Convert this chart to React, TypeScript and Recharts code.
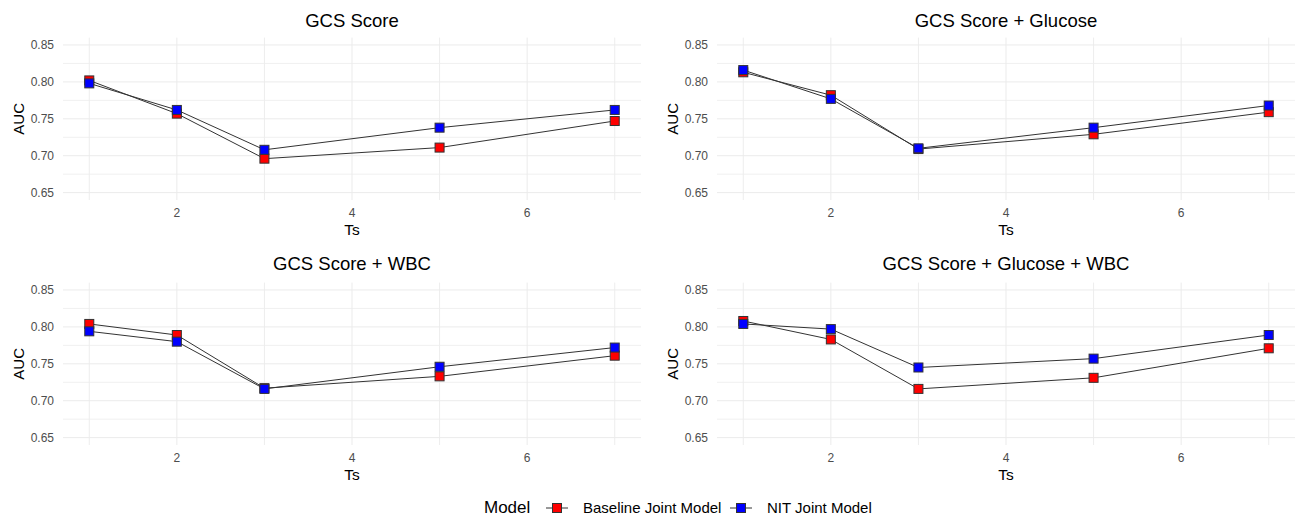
import { Label, Line, LineChart, ReferenceLine, XAxis, YAxis } from 'recharts';

const FONT = '"Liberation Sans", Arial, sans-serif';

// time points and AUC values per panel
const ts = [1, 2, 3, 5, 7];

const baselineGcs = [0.802, 0.757, 0.696, 0.711, 0.747];
const nitGcs = [0.798, 0.762, 0.708, 0.738, 0.762];

const baselineGlucose = [0.813, 0.782, 0.709, 0.729, 0.759];
const nitGlucose = [0.816, 0.777, 0.710, 0.738, 0.768];

const baselineWbc = [0.804, 0.789, 0.717, 0.733, 0.761];
const nitWbc = [0.794, 0.780, 0.716, 0.746, 0.772];

const baselineAll = [0.808, 0.783, 0.716, 0.731, 0.771];
const nitAll = [0.804, 0.797, 0.745, 0.757, 0.789];

const yTicks = [0.65, 0.7, 0.75, 0.8, 0.85];
const yMinor = [0.675, 0.725, 0.775, 0.825];
const xTicks = [2, 4, 6];
const xMinor = [1, 3, 5, 7];

const seriesNames = ['Baseline Joint Model', 'NIT Joint Model'];
const seriesColors = ['#FF0000', '#0000FF'];

const panels = [
  { title: 'GCS Score', base: baselineGcs, nit: nitGcs, left: 0, top: 0, ml: 8, mr: 8 },
  { title: 'GCS Score + Glucose', base: baselineGlucose, nit: nitGlucose, left: 649, top: 0, ml: 13, mr: 3 },
  { title: 'GCS Score + WBC', base: baselineWbc, nit: nitWbc, left: 0, top: 245, ml: 8, mr: 8 },
  { title: 'GCS Score + Glucose + WBC', base: baselineAll, nit: nitAll, left: 649, top: 245, ml: 13, mr: 3 },
];

function square(color: string) {
  return (props: any) => (
    <rect
      key={props.key ?? `${color}-${props.index}`}
      x={props.cx - 4.5}
      y={props.cy - 4.5}
      width={9}
      height={9}
      fill={color}
      stroke="#333"
      strokeWidth={1}
    />
  );
}

const YTick = ({ x, y, payload }: any) => (
  <text x={x} y={y} dy="0.35em" textAnchor="end" fontSize={12} fill="#4D4D4D" fontFamily={FONT}>
    {payload.value.toFixed(2)}
  </text>
);

const XTick = ({ x, y, payload }: any) => (
  <text x={x} y={y} dy={9} textAnchor="middle" fontSize={12} fill="#4D4D4D" fontFamily={FONT}>
    {payload.value}
  </text>
);

function Panel({ title, base, nit, left, top, ml, mr }: any) {
  const data = ts.map((t, i) => ({ ts: t, baseline: base[i], nit: nit[i] }));
  const plotLeft = ml + 55;
  const plotRight = 649 - mr;
  return (
    <div style={{ position: 'absolute', left, top, width: 649, height: 245 }}>
      <div
        style={{
          position: 'absolute',
          left: plotLeft,
          width: plotRight - plotLeft,
          top: top === 0 ? 10 : 8,
          textAlign: 'center',
          fontFamily: FONT,
          fontSize: 18.5,
          lineHeight: '22px',
          color: '#000',
        }}>
        {title}
      </div>
      <LineChart width={649} height={245} data={data} margin={{ top: 37.6, right: mr, left: ml, bottom: 0 }}>
        {yMinor.map((v) => (
          <ReferenceLine key={`ym${v}`} y={v} stroke="#F0F0F0" strokeWidth={1} />
        ))}
        {xMinor.map((v) => (
          <ReferenceLine key={`xm${v}`} x={v} stroke="#EDEDED" strokeWidth={1} />
        ))}
        {yTicks.map((v) => (
          <ReferenceLine key={`y${v}`} y={v} stroke="#EBEBEB" strokeWidth={1} />
        ))}
        {xTicks.map((v) => (
          <ReferenceLine key={`x${v}`} x={v} stroke="#EBEBEB" strokeWidth={1} />
        ))}
        <XAxis
          dataKey="ts"
          type="number"
          domain={[0.7, 7.3]}
          ticks={xTicks}
          axisLine={false}
          tickLine={false}
          height={45}
          tick={<XTick />}>
          <Label
            content={({ viewBox }: any) => (
              <text
                x={viewBox.x + viewBox.width / 2}
                y={viewBox.y + 35}
                textAnchor="middle"
                fontSize={15.5}
                fill="#000"
                fontFamily={FONT}>
                Ts
              </text>
            )}
          />
        </XAxis>
        <YAxis
          type="number"
          domain={[0.64, 0.86]}
          ticks={yTicks}
          axisLine={false}
          tickLine={false}
          tickMargin={3}
          width={55}
          tick={<YTick />}>
          <Label
            content={({ viewBox }: any) => {
              const cx = viewBox.x + viewBox.width - 39;
              const cy = viewBox.y + viewBox.height / 2;
              return (
                <text
                  x={cx}
                  y={cy}
                  transform={`rotate(-90, ${cx}, ${cy})`}
                  textAnchor="middle"
                  fontSize={15}
                  fill="#000"
                  fontFamily={FONT}>
                  AUC
                </text>
              );
            }}
          />
        </YAxis>
        <Line dataKey="baseline" stroke="#333" strokeWidth={1} dot={false} activeDot={false} isAnimationActive={false} />
        <Line dataKey="nit" stroke="#333" strokeWidth={1} dot={false} activeDot={false} isAnimationActive={false} />
        <Line
          dataKey="baseline"
          stroke="none"
          dot={square(seriesColors[0])}
          activeDot={false}
          isAnimationActive={false}
        />
        <Line dataKey="nit" stroke="none" dot={square(seriesColors[1])} activeDot={false} isAnimationActive={false} />
      </LineChart>
    </div>
  );
}

function ModelLegend() {
  const keys = [557, 741];
  const labelsX = [583, 767];
  return (
    <svg style={{ position: 'absolute', left: 0, top: 488 }} width={1298} height={28}>
      <text x={484} y={25} fontSize={17} fill="#000" fontFamily={FONT}>
        Model
      </text>
      {seriesNames.map((name, i) => (
        <g key={name}>
          <line x1={keys[i] - 11} x2={keys[i] + 11} y1={20} y2={20} stroke="#333" strokeWidth={1} />
          <rect x={keys[i] - 4.5} y={15.5} width={9} height={9} fill={seriesColors[i]} stroke="#333" strokeWidth={1} />
          <text x={labelsX[i]} y={25} fontSize={15} fill="#000" fontFamily={FONT}>
            {name}
          </text>
        </g>
      ))}
    </svg>
  );
}

export default function App() {
  return (
    <div style={{ position: 'absolute', left: 0, top: 0, width: 1298, height: 516, background: '#fff', overflow: 'hidden' }}>
      {panels.map((p) => (
        <Panel key={p.title} {...p} />
      ))}
      <ModelLegend />
    </div>
  );
}
